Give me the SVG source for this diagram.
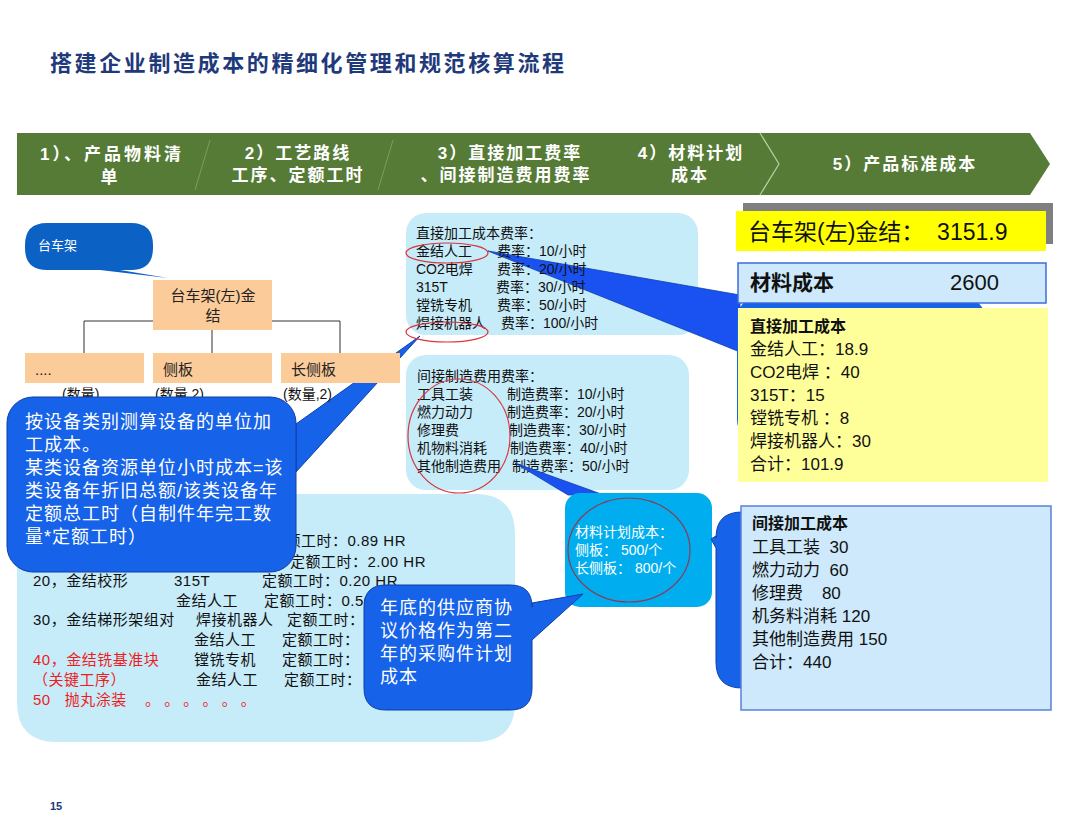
<svg xmlns="http://www.w3.org/2000/svg" width="1080" height="835" viewBox="0 0 1080 835">
<defs>
<style>
text{font-family:"Liberation Sans","Noto Sans CJK SC",sans-serif;white-space:pre;}
.title{font-size:22px;font-weight:bold;fill:#1F3A7A;letter-spacing:2.6px;}
.ban{font-size:17px;font-weight:bold;fill:#FFFFFF;letter-spacing:2px;text-anchor:middle;}
.peach{fill:#FBCB9A;}
.tree{font-size:15px;fill:#222;}
.conn{stroke:#333;stroke-width:1;fill:none;}
.call{fill:#1662E8;stroke:#0E3FA8;stroke-width:1;}
.callw{font-size:18px;fill:#FFFFFF;letter-spacing:1px;}
.lb{fill:#C6EBF9;}
.r14{font-size:14px;fill:#111;}
.p15{font-size:15px;fill:#111;letter-spacing:0.5px;}
.red{fill:#EE1C1C;}
.ell{fill:none;stroke:#D9363E;stroke-width:1.2;}
.big{font-size:17px;fill:#111;}
.bh{font-size:16px;font-weight:bold;fill:#111;}
.mw{font-size:14px;fill:#FFFFFF;}
</style>
</defs>
<rect width="1080" height="835" fill="#FFFFFF"/>
<text class="title" x="50" y="71">搭建企业制造成本的精细化管理和规范核算流程</text>

<g id="banner">
<polygon points="17,133 1030,133 1050,164 1030,195 17,195" fill="#557B36"/>
<line x1="210" y1="140" x2="195" y2="190" stroke="#7D9C62" stroke-width="1"/>
<line x1="393" y1="140" x2="378" y2="190" stroke="#7D9C62" stroke-width="1"/>
<polyline points="760,133 779,164 760,195" fill="none" stroke="#B9CFA4" stroke-width="1.2"/>
<text class="ban" x="112" y="160" style="letter-spacing:3px">1）、产品物料清</text>
<text class="ban" x="110" y="183">单</text>
<text class="ban" x="298" y="159">2）工艺路线</text>
<text class="ban" x="298" y="181">工序、定额工时</text>
<text class="ban" x="510" y="159">3）直接加工费率</text>
<text class="ban" x="506" y="181">、间接制造费用费率</text>
<text class="ban" x="691" y="159">4）材料计划</text>
<text class="ban" x="690" y="181">成本</text>
<text class="ban" x="905" y="170">5）产品标准成本</text>
</g>

<!-- left callout tail (under tree) -->
<polygon class="call" points="296,424 420,336 296,472"/>

<g id="connectors">
<polyline class="conn" points="153,321 84,321 84,353"/>
<polyline class="conn" points="272,321 340,321 340,353"/>
<line class="conn" x1="212" y1="330" x2="212" y2="353"/>
</g>

<g id="callout-taichejia">
<path d="M47,223 H131 Q153,223 153,245 V248 Q153,270 131,270 H120 L168,278 L100,270 H47 Q25,270 25,248 V245 Q25,223 47,223 Z" fill="#0B62C4"/>
<text x="38" y="250" font-size="13" fill="#FFFFFF">台车架</text>
</g>

<g id="node-root">
<rect class="peach" x="153" y="280" width="119" height="50"/>
<text class="tree" x="213" y="301" text-anchor="middle">台车架(左)金</text>
<text class="tree" x="213" y="321" text-anchor="middle">结</text>
</g>
<g id="node-dots">
<rect class="peach" x="25" y="353" width="119" height="30"/>
<text class="tree" x="35" y="375">....</text>
<text class="r14" x="62" y="399">(数量)</text>
</g>
<g id="node-cebang">
<rect class="peach" x="153" y="353" width="119" height="30"/>
<text class="tree" x="163" y="375">侧板</text>
<text class="r14" x="155" y="399">(数量,2)</text>
</g>
<g id="node-changcebang">
<rect class="peach" x="281" y="353" width="119" height="30"/>
<text class="tree" x="291" y="375">长侧板</text>
<text class="r14" x="283" y="399">(数量,2)</text>
</g>

<g id="process-area">
<path d="M17,494 H475 Q515,494 515,534 V702 Q515,742 475,742 H57 Q17,742 17,702 Z" class="lb"/>
<text class="p15" x="270" y="546">定额工时：0.89 HR</text>
<text class="p15" x="290" y="567">定额工时：2.00 HR</text>
<text class="p15" x="33" y="586">20，金结校形</text>
<text class="p15" x="174" y="586">315T</text>
<text class="p15" x="262" y="586">定额工时：0.20 HR</text>
<text class="p15" x="176" y="606">金结人工</text>
<text class="p15" x="264" y="606">定额工时：0.50 HR</text>
<text class="p15" x="33" y="625">30，金结梯形架组对</text>
<text class="p15" x="196" y="625">焊接机器人</text>
<text class="p15" x="287" y="625">定额工时：</text>
<text class="p15" x="194" y="645">金结人工</text>
<text class="p15" x="282" y="645">定额工时：</text>
<text class="p15 red" x="33" y="665">40，金结铣基准块</text>
<text class="p15" x="194" y="665">镗铣专机</text>
<text class="p15" x="282" y="665">定额工时：</text>
<text class="p15 red" x="33" y="685">（关键工序）</text>
<text class="p15" x="196" y="685">金结人工</text>
<text class="p15" x="284" y="685">定额工时：</text>
<text class="p15 red" x="33" y="705">50   抛丸涂装</text>
<text class="p15 red" x="145" y="705" style="letter-spacing:0px">。 。 。 。 。 。</text>
</g>

<g id="direct-rate">
<rect class="lb" x="406" y="213" width="292" height="122" rx="20"/>
<polygon points="488,251 740,295 740,352" fill="#1A52F2" stroke="#0E3FA8" stroke-width="0.8"/>
<text class="r14" x="416" y="238">直接加工成本费率：</text>
<text class="r14" x="416" y="256">金结人工</text><text class="r14" x="497" y="256">费率：10/小时</text>
<text class="r14" x="416" y="274">CO2电焊</text><text class="r14" x="497" y="274">费率：20/小时</text>
<text class="r14" x="416" y="292">315T</text><text class="r14" x="496" y="292">费率：30/小时</text>
<text class="r14" x="416" y="310">镗铣专机</text><text class="r14" x="497" y="310">费率：50/小时</text>
<text class="r14" x="416" y="328">焊接机器人</text><text class="r14" x="501" y="328">费率：100/小时</text>
<ellipse class="ell" cx="447" cy="253" rx="41" ry="10"/>
<ellipse class="ell" cx="447" cy="332" rx="41" ry="10"/>
</g>

<g id="indirect-rate">
<rect class="lb" x="406" y="355" width="283" height="135" rx="20"/>
<text class="r14" x="417" y="381">间接制造费用费率：</text>
<text class="r14" x="417" y="399">工具工装</text><text class="r14" x="507" y="399">制造费率：10/小时</text>
<text class="r14" x="417" y="417">燃力动力</text><text class="r14" x="507" y="417">制造费率：20/小时</text>
<text class="r14" x="417" y="435">修理费</text><text class="r14" x="509" y="435">制造费率：30/小时</text>
<text class="r14" x="417" y="453">机物料消耗</text><text class="r14" x="510" y="453">制造费率：40/小时</text>
<text class="r14" x="417" y="471">其他制造费用</text><text class="r14" x="512" y="471">制造费率：50/小时</text>
<ellipse class="ell" cx="459" cy="436" rx="51" ry="57"/>
</g>

<g id="callout-method">
<rect class="call" x="7" y="397" width="289" height="175" rx="26"/>
<text class="callw" x="25" y="428">按设备类别测算设备的单位加</text>
<text class="callw" x="25" y="451">工成本。</text>
<text class="callw" x="25" y="474">某类设备资源单位小时成本=该</text>
<text class="callw" x="25" y="497">类设备年折旧总额/该类设备年</text>
<text class="callw" x="25" y="520">定额总工时（自制件年完工数</text>
<text class="callw" x="25" y="543">量*定额工时）</text>
</g>

<g id="material-plan">
<polygon points="515,463 568,495 604,495" fill="#1A52F2" stroke="#0E3FA8" stroke-width="0.8"/>
<rect x="565" y="493" width="147" height="114" rx="15" fill="#00AEEF"/>
<ellipse cx="629" cy="550" rx="61" ry="52" fill="none" stroke="#8E3A52" stroke-width="1.2"/>
<text class="mw" x="575" y="537">材料计划成本：</text>
<text class="mw" x="575" y="555">侧板： 500/个</text>
<text class="mw" x="575" y="573">长侧板： 800/个</text>
</g>

<g id="callout-supplier">
<path class="call" d="M386,585 H510 Q532,585 532,607 V603 L583,594 L532,640 V688 Q532,710 510,710 H386 Q364,710 364,688 V607 Q364,585 386,585 Z"/>
<text class="callw" x="380" y="614">年底的供应商协</text>
<text class="callw" x="380" y="637">议价格作为第二</text>
<text class="callw" x="380" y="660">年的采购件计划</text>
<text class="callw" x="380" y="683">成本</text>
</g>

<g id="total">
<rect x="743" y="203" width="310" height="41" fill="#7F7F7F"/>
<rect x="736" y="211" width="310" height="40" fill="#FFFF00"/>
<text x="748" y="240" font-size="23" fill="#111">台车架(左)金结：  3151.9</text>
</g>

<g id="hidden-callout-direct">
<rect x="737" y="298" width="248" height="142" rx="20" fill="#1662E8"/>
</g>

<g id="material-cost">
<rect x="738" y="263" width="308" height="40" fill="#CDE9FB" stroke="#3C6BDC" stroke-width="1.5"/>
<text x="750" y="290" font-size="21" font-weight="bold" fill="#111">材料成本</text>
<text x="950" y="290" font-size="22" fill="#111">2600</text>
</g>

<g id="direct-cost">
<rect x="738" y="308" width="310" height="174" fill="#FFFF99"/>
<text class="bh" x="750" y="332">直接加工成本</text>
<text class="big" x="750" y="355">金结人工：18.9</text>
<text class="big" x="750" y="378">CO2电焊 ：40</text>
<text class="big" x="750" y="401">315T：15</text>
<text class="big" x="750" y="424">镗铣专机 ：8</text>
<text class="big" x="750" y="447">焊接机器人：30</text>
<text class="big" x="750" y="470">合计：101.9</text>
</g>

<g id="hidden-callout-indirect">
<path d="M742,512 H800 V688 H742 Q716,688 716,662 V548 L711,539 L716,536 V538 Q716,512 742,512 Z" fill="#1662E8" stroke="#0E3FA8" stroke-width="1"/>
</g>

<g id="indirect-cost">
<rect x="741" y="506" width="310" height="204" fill="#CDE9FB" stroke="#5B7FE0" stroke-width="1.5"/>
<text class="bh" x="752" y="529">间接加工成本</text>
<text class="big" x="752" y="553">工具工装  30</text>
<text class="big" x="752" y="576">燃力动力  60</text>
<text class="big" x="752" y="599">修理费    80</text>
<text class="big" x="752" y="622">机务料消耗 120</text>
<text class="big" x="752" y="645">其他制造费用 150</text>
<text class="big" x="752" y="668">合计：440</text>
</g>

<text x="50" y="810" font-size="11" font-weight="bold" fill="#1F3A7A">15</text>
</svg>
